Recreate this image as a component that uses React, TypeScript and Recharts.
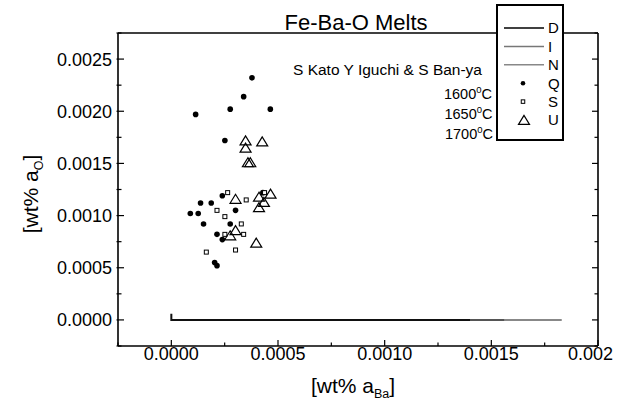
import React from 'react';
import { ScatterChart, Scatter, XAxis, YAxis } from 'recharts';

const FONT = '"Liberation Sans", Arial, sans-serif';

// zero lines (x, y)
const lineD = [
  { x: 0, y: 0.00006 },
  { x: 0, y: 0 },
  { x: 0.0014, y: 0 },
];
const lineI = [
  { x: 0, y: 0 },
  { x: 0.00156, y: 0 },
];
const lineN = [
  { x: 0, y: 0 },
  { x: 0.00183, y: 0 },
];

// 1600 C
const seriesQ = [
  { x: 0.000114, y: 0.00197 },
  { x: 0.000276, y: 0.00202 },
  { x: 0.000339, y: 0.00214 },
  { x: 0.000378, y: 0.00232 },
  { x: 0.000464, y: 0.00202 },
  { x: 0.000251, y: 0.00172 },
  { x: 0.000239, y: 0.00119 },
  { x: 0.000137, y: 0.00112 },
  { x: 0.000187, y: 0.00112 },
  { x: 0.000089, y: 0.00102 },
  { x: 0.000126, y: 0.00102 },
  { x: 0.000301, y: 0.00105 },
  { x: 0.000151, y: 0.00092 },
  { x: 0.000276, y: 0.00092 },
  { x: 0.000214, y: 0.00082 },
  { x: 0.000239, y: 0.00077 },
  { x: 0.000203, y: 0.00055 },
  { x: 0.000214, y: 0.00052 },
  { x: 0.000429, y: 0.00122 },
];

// 1650 C
const seriesS = [
  { x: 0.000264, y: 0.00122 },
  { x: 0.000351, y: 0.00115 },
  { x: 0.000214, y: 0.00105 },
  { x: 0.000251, y: 0.00099 },
  { x: 0.000328, y: 0.00092 },
  { x: 0.000251, y: 0.00082 },
  { x: 0.000339, y: 0.00082 },
  { x: 0.000164, y: 0.00065 },
  { x: 0.000301, y: 0.00067 },
  { x: 0.000437, y: 0.00122 },
];

// 1700 C
const seriesU = [
  { x: 0.000348, y: 0.00172 },
  { x: 0.000348, y: 0.00165 },
  { x: 0.000426, y: 0.00171 },
  { x: 0.000359, y: 0.00151 },
  { x: 0.00037, y: 0.00151 },
  { x: 0.000301, y: 0.00116 },
  { x: 0.000411, y: 0.00118 },
  { x: 0.000465, y: 0.00121 },
  { x: 0.000434, y: 0.00113 },
  { x: 0.000411, y: 0.00108 },
  { x: 0.000301, y: 0.00086 },
  { x: 0.000276, y: 0.00081 },
  { x: 0.000398, y: 0.00074 },
];

const xTicks = [-0.00025, 0, 0.00025, 0.0005, 0.00075, 0.001, 0.00125, 0.0015, 0.00175, 0.002];
const yTicks = [
  -0.00025, 0, 0.00025, 0.0005, 0.00075, 0.001, 0.00125, 0.0015, 0.00175, 0.002, 0.00225,
  0.0025, 0.00275,
];

const tempLabels = ['1600', '1650', '1700'];

const isMajor = (v: number) => Math.abs(v * 2000 - Math.round(v * 2000)) < 1e-6;

const Dot = ({ cx, cy, r = 2.8 }: any) => <circle cx={cx} cy={cy} r={r} fill="#000" />;
const Square = ({ cx, cy, s = 4 }: any) => (
  <rect x={cx - s / 2} y={cy - s / 2} width={s} height={s} fill="#fff" stroke="#000" strokeWidth={1} />
);
const Triangle = ({ cx, cy }: any) => (
  <path
    d={`M${cx},${cy - 4.6}L${cx - 5.5},${cy + 4.4}L${cx + 5.5},${cy + 4.4}Z`}
    fill="none"
    stroke="#000"
    strokeWidth={1.2}
  />
);
const NoMark = () => <g />;

const legendRows = [
  { name: 'D', kind: 'line', color: '#000' },
  { name: 'I', kind: 'line', color: '#777' },
  { name: 'N', kind: 'line', color: '#888' },
  { name: 'Q', kind: 'dot' },
  { name: 'S', kind: 'square' },
  { name: 'U', kind: 'triangle' },
];

const BottomTick = ({ x, y, payload }: any) => {
  const v = payload.value;
  const major = isMajor(v);
  const last = Math.abs(v - 0.002) < 1e-9;
  return (
    <g>
      <line x1={x} x2={x} y1={y} y2={y - (major ? 6 : 3.5)} stroke="#000" strokeWidth={1.2} />
      {major && (
        <text
          x={last ? x - 30 : x}
          y={y + 14}
          textAnchor={last ? 'start' : 'middle'}
          fontSize={18}
          fontFamily={FONT}
          fill="#000"
        >
          {last ? '0.002' : v.toFixed(4)}
        </text>
      )}
    </g>
  );
};

const TopTick = ({ x, y, payload }: any) => {
  const major = isMajor(payload.value);
  return <line x1={x} x2={x} y1={y} y2={y + (major ? 6 : 3.5)} stroke="#000" strokeWidth={1.2} />;
};

const LeftTick = ({ x, y, payload }: any) => {
  const v = payload.value;
  const major = isMajor(v);
  return (
    <g>
      <line x1={x - 1.5} x2={x + (major ? 6 : 3.5)} y1={y} y2={y} stroke="#000" strokeWidth={1.2} />
      {major && (
        <text x={x - 6} y={y} dy="0.36em" textAnchor="end" fontSize={18} fontFamily={FONT} fill="#000">
          {v.toFixed(4)}
        </text>
      )}
    </g>
  );
};

const RightTick = ({ x, y, payload }: any) => {
  const major = isMajor(payload.value);
  return <line x1={x} x2={x - (major ? 6 : 3.5)} y1={y} y2={y} stroke="#000" strokeWidth={1.2} />;
};

const axisLine = { stroke: '#000', strokeWidth: 1.6 };

const Overlay = () => (
  <svg
    width={630}
    height={406}
    style={{ position: 'absolute', left: 0, top: 0, pointerEvents: 'none' }}
    fontFamily={FONT}
  >
    <text x={356} y={30} textAnchor="middle" fontSize={22} fill="#000">
      Fe-Ba-O Melts
    </text>
    <text x={293} y={75} fontSize={15.5} fill="#000">
      S Kato Y Iguchi &amp; S Ban-ya
    </text>
    {tempLabels.map((t, i) => (
      <text key={t} x={492 + i * 0.5} y={99 + i * 20} textAnchor="end" fontSize={14.5} fill="#000">
        {t}
        <tspan fontSize={9.5} dy={-6}>
          0
        </tspan>
        <tspan dy={6}>C</tspan>
      </text>
    ))}
    <text x={353} y={393} textAnchor="middle" fontSize={21} fill="#000">
      [wt% a
      <tspan fontSize={12.5} dy={5}>
        Ba
      </tspan>
      <tspan dy={-5}>]</tspan>
    </text>
    <text
      x={0}
      y={0}
      transform="translate(38,194) rotate(-90)"
      textAnchor="middle"
      fontSize={21}
      fill="#000"
    >
      [wt% a
      <tspan fontSize={12.5} dy={5}>
        O
      </tspan>
      <tspan dy={-5}>]</tspan>
    </text>
    <rect x={497} y={5} width={66} height={135} fill="#fff" stroke="#000" strokeWidth={2} />
    {legendRows.map((r, i) => {
      const cy = 28 + i * 18.4;
      return (
        <g key={r.name}>
          {r.kind === 'line' && <line x1={504} x2={544} y1={cy} y2={cy} stroke={r.color} strokeWidth={1.5} />}
          {r.kind === 'dot' && <Dot cx={523} cy={cy} r={2.3} />}
          {r.kind === 'square' && <Square cx={523} cy={cy} s={3.5} />}
          {r.kind === 'triangle' && <Triangle cx={524} cy={cy} />}
          <text x={548} y={cy} dy="0.36em" fontSize={15} fill="#000">
            {r.name}
          </text>
        </g>
      );
    })}
  </svg>
);

export default function App() {
  return (
    <div style={{ position: 'fixed', left: 0, top: 0, width: 630, height: 406, background: '#fff' }}>
      <ScatterChart width={630} height={406} margin={{ top: 32, right: 31, bottom: 10, left: 8 }}>
        <XAxis
          xAxisId="b"
          type="number"
          dataKey="x"
          domain={[-0.00025, 0.002]}
          allowDataOverflow
          ticks={xTicks}
          interval={0}
          height={50}
          tickSize={0}
          tickMargin={0}
          tickLine={false}
          axisLine={axisLine}
          tick={(p: any) => <BottomTick {...p} />}
        />
        <XAxis
          xAxisId="t"
          orientation="top"
          type="number"
          domain={[-0.00025, 0.002]}
          allowDataOverflow
          ticks={xTicks}
          interval={0}
          height={1}
          tickSize={0}
          tickMargin={0}
          tickLine={false}
          axisLine={axisLine}
          tick={(p: any) => <TopTick {...p} />}
        />
        <YAxis
          yAxisId="l"
          type="number"
          dataKey="y"
          domain={[-0.00025, 0.00275]}
          allowDataOverflow
          ticks={yTicks}
          interval={0}
          width={110}
          tickSize={0}
          tickMargin={0}
          tickLine={false}
          axisLine={axisLine}
          tick={(p: any) => <LeftTick {...p} />}
        />
        <YAxis
          yAxisId="r"
          orientation="right"
          type="number"
          domain={[-0.00025, 0.00275]}
          allowDataOverflow
          ticks={yTicks}
          interval={0}
          width={1}
          tickSize={0}
          tickMargin={0}
          tickLine={false}
          axisLine={axisLine}
          tick={(p: any) => <RightTick {...p} />}
        />
        <Scatter
          name="N"
          data={lineN}
          xAxisId="b"
          yAxisId="l"
          line={{ stroke: '#888', strokeWidth: 2 }}
          shape={NoMark}
          isAnimationActive={false}
        />
        <Scatter
          name="I"
          data={lineI}
          xAxisId="b"
          yAxisId="l"
          line={{ stroke: '#555', strokeWidth: 2 }}
          shape={NoMark}
          isAnimationActive={false}
        />
        <Scatter
          name="D"
          data={lineD}
          xAxisId="b"
          yAxisId="l"
          line={{ stroke: '#111', strokeWidth: 2 }}
          shape={NoMark}
          isAnimationActive={false}
        />
        <Scatter name="Q" data={seriesQ} xAxisId="b" yAxisId="l" shape={Dot} isAnimationActive={false} />
        <Scatter name="S" data={seriesS} xAxisId="b" yAxisId="l" shape={Square} isAnimationActive={false} />
        <Scatter name="U" data={seriesU} xAxisId="b" yAxisId="l" shape={Triangle} isAnimationActive={false} />
      </ScatterChart>
      <Overlay />
    </div>
  );
}
